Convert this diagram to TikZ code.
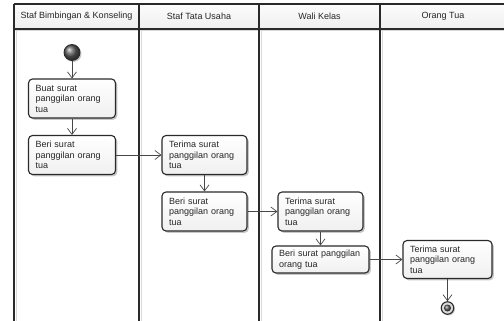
\documentclass[tikz,border=0pt]{standalone}
\usepackage{fontspec}
\setmainfont{Liberation Sans}
\usetikzlibrary{arrows.meta,shadows}
\definecolor{edge}{HTML}{2A2A2A}
\definecolor{ink}{HTML}{262626}
\begin{document}
\begin{tikzpicture}[x=1pt,y=-1pt,
  lane/.style={line width=1.4pt, draw=edge},
  laneshade/.style={line width=1pt, draw=gray!30},
  hdr/.style={font=\fontsize{9}{10.5}\selectfont, text=ink},
  act/.style={draw=edge, line width=1.1pt, rounded corners=4pt,
    top color=white, bottom color=gray!12, align=left,
    inner xsep=7pt, inner ysep=2pt, minimum height=39pt,
    font=\fontsize{9}{10.5}\selectfont, text=ink,
    drop shadow={shadow xshift=1.8pt, shadow yshift=-1.8pt, fill=black, opacity=0.22}},
  flow/.style={draw=black!72, line width=0.7pt, -{Straight Barb[length=6pt,width=9pt]}}
]
\useasboundingbox (0,0) rectangle (504,321);

% swimlane frame
\shade[top color=gray!2, bottom color=gray!13] (14,4) rectangle (508,29);
\draw[laneshade] (14,31) -- (508,31);
\foreach \x in {14,139,259,380}
  \draw[laneshade] (\x+2.6,31) -- (\x+2.6,323);
\draw[lane] (14,4) -- (508,4);
\draw[lane] (14,29) -- (508,29);
\foreach \x in {14,139,259,380}
  \draw[lane] (\x,4) -- (\x,323);

% lane titles
\node[hdr] (h1) at (76.5,16.5) {Staf Bimbingan \& Konseling};
\node[hdr] (h2) at (199,16.5) {Staf Tata Usaha};
\node[hdr] (h3) at (319.5,16.5) {Wali Kelas};
\node[hdr] (h4) at (443,16.5) {Orang Tua};

% initial node
\node[circle, draw=edge, line width=0.8pt, minimum size=16pt, inner sep=0pt,
      shading=ball, ball color=gray!75!black,
      drop shadow={shadow xshift=1.5pt, shadow yshift=-1.5pt, fill=black, opacity=0.22}] (start) at (72,52.5) {};

% activities
\node[act, text width=73pt] (b1) at (72,98.5) {Buat surat\\panggilan orang\\tua};
\node[act, text width=73pt] (b2) at (72,155) {Beri surat\\panggilan orang\\tua};
\node[act, text width=71pt] (b3) at (204.5,155) {Terima surat\\panggilan orang\\tua};
\node[act, text width=71pt] (b4) at (204.5,211.5) {Beri surat\\panggilan orang\\tua};
\node[act, text width=71pt] (b5) at (320.5,211.5) {Terima surat\\panggilan orang\\tua};
\node[act, text width=83pt, minimum height=27pt] (b6) at (320.5,259.5) {Beri surat panggilan\\orang tua};
\node[act, text width=75pt, minimum height=38pt] (b7) at (447.5,259.5) {Terima surat\\panggilan orang\\tua};

% final node
\node[circle, draw=edge, line width=1.1pt, minimum size=12.5pt, inner sep=0pt,
      fill=gray!30,
      drop shadow={shadow xshift=1.2pt, shadow yshift=-1.2pt, fill=black, opacity=0.22}] (end) at (447.5,308) {};
\node[circle, inner sep=0pt, minimum size=7pt, shading=ball, ball color=gray!70!black] (endcore) at (end.center) {};

% control flow
\draw[flow] (start) -- (b1);
\draw[flow] (b1) -- (b2);
\draw[flow] (b2) -- (b3);
\draw[flow] (b3) -- (b4);
\draw[flow] (b4) -- (b5);
\draw[flow] (b5) -- (b6);
\draw[flow] (b6) -- (b7);
\draw[flow] (b7) -- (end);
\end{tikzpicture}
\end{document}
